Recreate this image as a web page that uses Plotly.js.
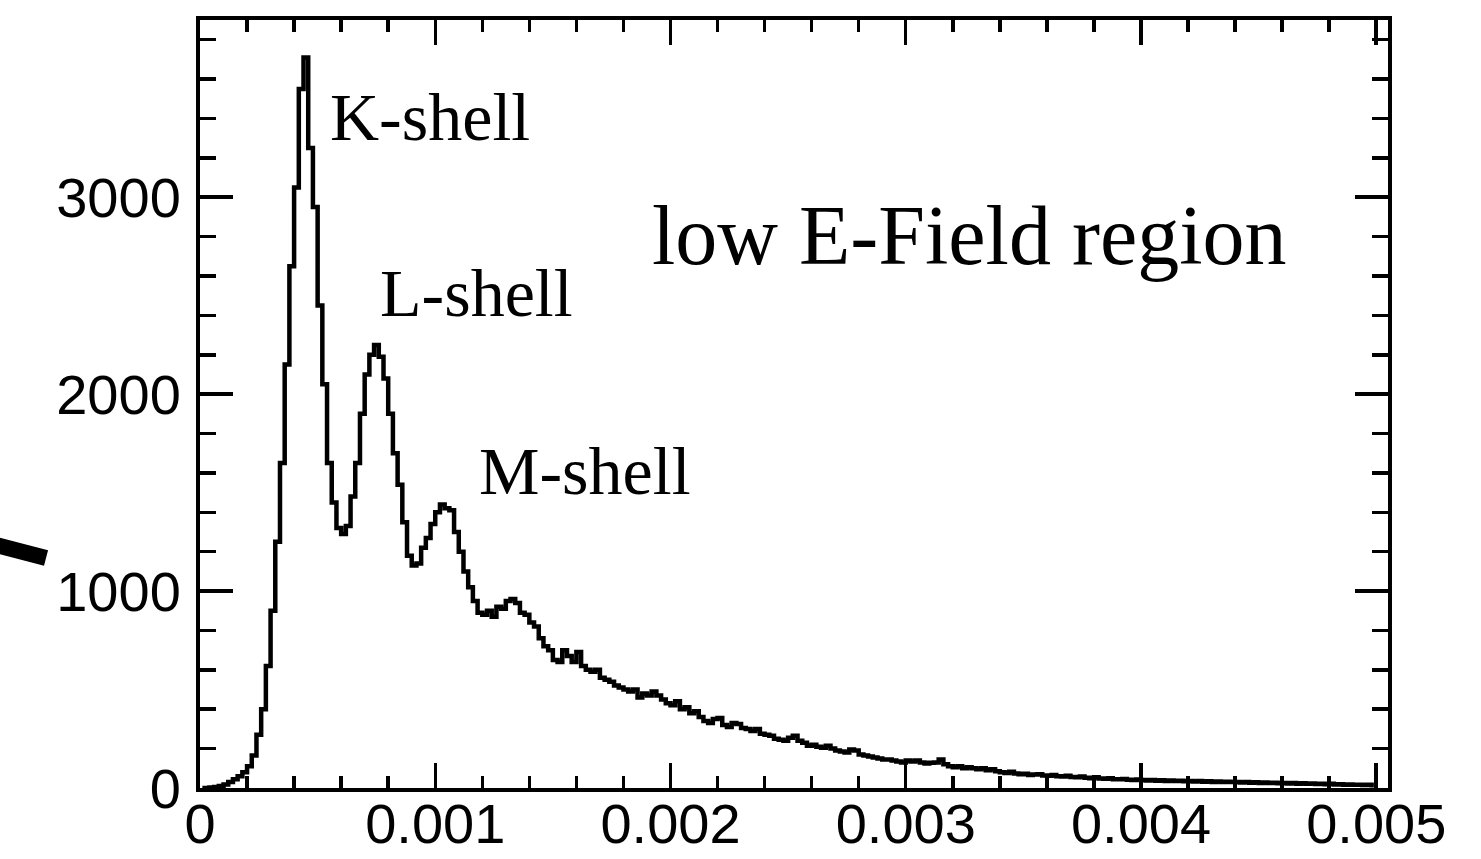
<!DOCTYPE html>
<html>
<head>
<meta charset="utf-8">
<script src="https://cdn.plot.ly/plotly-3.0.1.min.js"></script>
<style>
  html, body { margin: 0; padding: 0; background: #ffffff; }
  #chart { width: 1481px; height: 859px; }
</style>
</head>
<body>
<div id="chart"></div>
<script>
// Histogram binning (250 bins from 0 to 0.005)
const binStart = 0;
const binWidth = 0.00002;

// Counts per bin
const counts = [
  0, 0, 2, 5, 10, 18, 30, 45, 60, 80,
  110, 165, 270, 400, 620, 900, 1250, 1650, 2150, 2650,
  3050, 3550, 3710, 3250, 2950, 2450, 2050, 1650, 1450, 1320,
  1290, 1330, 1480, 1650, 1900, 2100, 2200, 2250, 2190, 2080,
  1900, 1700, 1540, 1350, 1180, 1130, 1140, 1220, 1270, 1340,
  1400, 1440, 1420, 1410, 1300, 1200, 1100, 1020, 950, 890,
  880, 900, 870, 920, 910, 950, 960, 940, 890, 880,
  840, 820, 760, 720, 700, 650, 640, 700, 670, 640,
  690, 620, 600, 590, 600, 560, 550, 540, 520, 510,
  500, 490, 500, 460, 480, 470, 490, 470, 450, 430,
  420, 440, 400, 410, 380, 390, 360, 340, 330, 350,
  355, 320, 310, 330, 325, 305, 300, 290, 300, 275,
  270, 265, 250, 245, 240, 255, 265, 240, 230, 215,
  220, 210, 205, 215, 200, 190, 185, 180, 195, 190,
  170, 165, 160, 155, 150, 145, 145, 140, 135, 130,
  140, 135, 140, 130, 125, 128, 130, 145, 120, 110,
  105, 110, 100, 105, 100, 95, 100, 90, 95, 85,
  80, 76, 82, 74, 70, 72, 66, 68, 70, 64,
  62, 66, 60, 58, 62, 56, 55, 58, 52, 50,
  54, 48, 47, 50, 45, 44, 46, 42, 40, 43,
  40, 38, 41, 37, 39, 36, 38, 35, 37, 34,
  36, 33, 35, 32, 34, 31, 33, 30, 32, 30,
  31, 28, 30, 27, 29, 26, 28, 25, 27, 24,
  26, 23, 25, 22, 24, 21, 23, 20, 22, 19,
  21, 18, 19, 17, 18, 16, 17, 15, 16, 14
];

// Axis tick values and labels
const xTickVals = [0, 0.001, 0.002, 0.003, 0.004, 0.005];
const xTickText = ["0", "0.001", "0.002", "0.003", "0.004", "0.005"];
const yTickVals = [0, 1000, 2000, 3000];
const yTickText = ["0", "1000", "2000", "3000"];

// Peak labels
const labelText = ["K-shell", "L-shell", "M-shell", "low E-Field region"];
const labelX = [0.000544, 0.000756, 0.001176, 0.001911];
const labelY = [3406, 2513, 1609, 2807];
const labelSize = [68, 68, 68, 84];

const binCenters = counts.map((_, i) => binStart + (i + 0.5) * binWidth);

const trace = {
  type: "scatter",
  mode: "lines",
  x: binCenters,
  y: counts,
  line: { color: "#000000", width: 4.5, shape: "hvh" },
  hoverinfo: "x+y",
  showlegend: false
};

const annotations = labelText.map((t, i) => ({
  text: t,
  x: labelX[i],
  y: labelY[i],
  xref: "x",
  yref: "y",
  xanchor: "left",
  yanchor: "middle",
  showarrow: false,
  font: { family: "Liberation Serif, Times New Roman, serif", size: labelSize[i], color: "#000000" }
}));

const tickFont = { family: "Liberation Sans, Arial, Helvetica, sans-serif", size: 56, color: "#000000" };

const layout = {
  width: 1481,
  height: 859,
  margin: { l: 200, r: 93, t: 20, b: 71, pad: 0 },
  paper_bgcolor: "#ffffff",
  plot_bgcolor: "#ffffff",
  showlegend: false,
  xaxis: {
    range: [0, 0.00505],
    tickmode: "array",
    tickvals: xTickVals,
    ticktext: xTickText,
    ticks: "inside",
    ticklen: 25,
    tickwidth: 3.5,
    tickcolor: "#000000",
    showline: true,
    linewidth: 4,
    linecolor: "#000000",
    mirror: "ticks",
    showgrid: false,
    zeroline: false,
    tickfont: tickFont,
    ticklabelstandoff: -16,
    minor: { tickmode: "linear", tick0: 0, dtick: 0.0002, ticks: "inside", ticklen: 12, tickwidth: 3.5, tickcolor: "#000000", showgrid: false }
  },
  yaxis: {
    range: [0, 3900],
    tickmode: "array",
    tickvals: yTickVals,
    ticktext: yTickText,
    ticks: "inside",
    ticklen: 33,
    tickwidth: 3.5,
    tickcolor: "#000000",
    showline: true,
    linewidth: 4,
    linecolor: "#000000",
    mirror: "ticks",
    showgrid: false,
    zeroline: false,
    tickfont: tickFont,
    ticklabelstandoff: 4,
    minor: { tickmode: "linear", tick0: 0, dtick: 200, ticks: "inside", ticklen: 16, tickwidth: 3.5, tickcolor: "#000000", showgrid: false }
  },
  annotations: annotations,
  shapes: [
    {
      type: "line",
      xref: "paper", yref: "paper",
      x0: -0.175, y0: 0.3178, x1: -0.1296, y1: 0.2995,
      line: { color: "#000000", width: 16 }
    }
  ]
};

Plotly.newPlot("chart", [trace], layout, { displayModeBar: false, staticPlot: true });
</script>
</body>
</html>
